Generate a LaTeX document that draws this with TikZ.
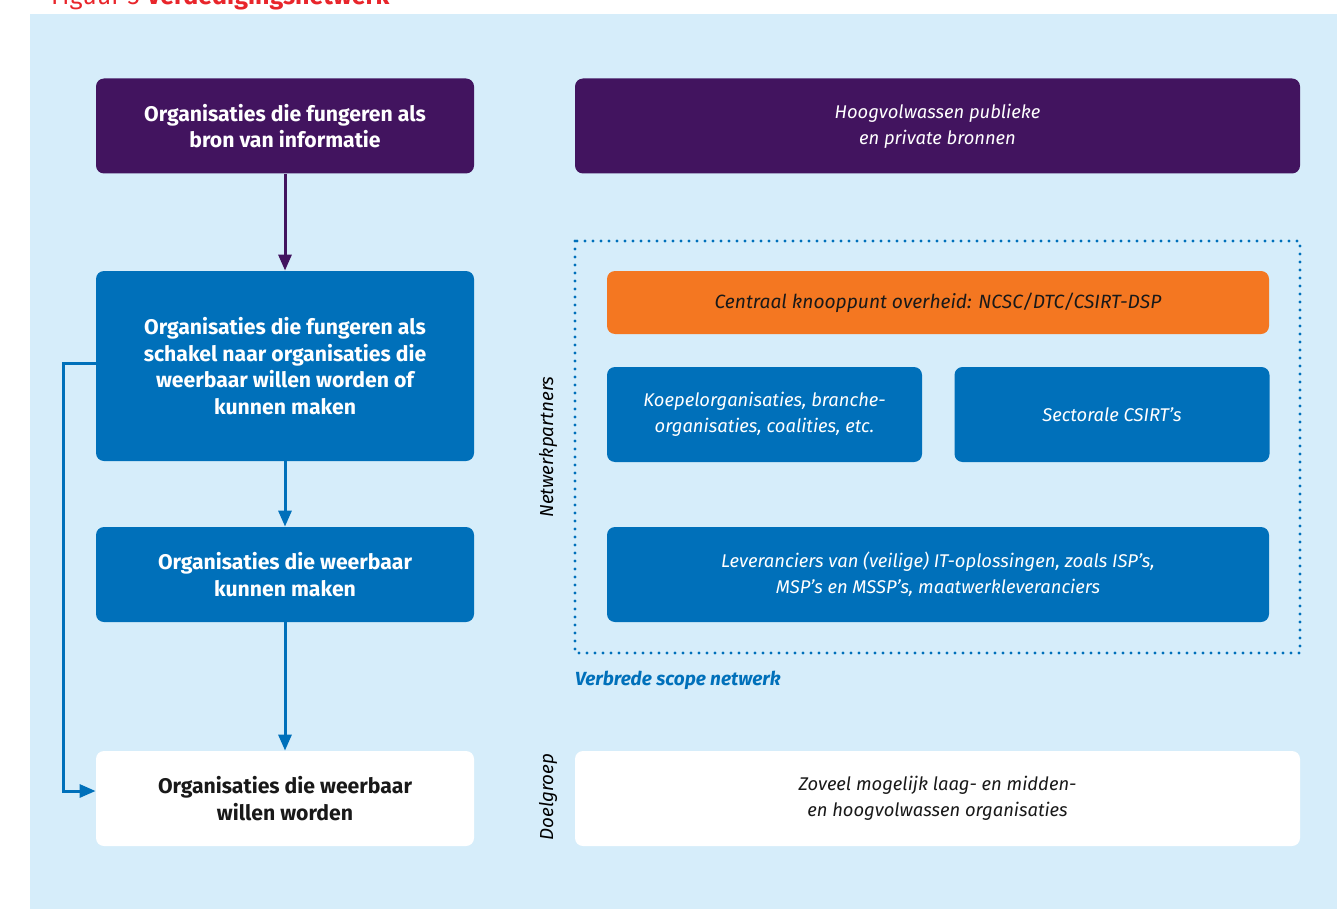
\documentclass[tikz,border=0pt]{standalone}
\usepackage{fontspec}
\setmainfont{Fira Sans}
\usepackage{xcolor}
\usepackage{tikz}
\usetikzlibrary{arrows.meta,calc}
\definecolor{achtergrond}{HTML}{D6EDFA}
\definecolor{paars}{HTML}{42145F}
\definecolor{blauw}{HTML}{0070BA}
\definecolor{oranje}{HTML}{F47721}
\definecolor{titelrood}{HTML}{E8252B}
\tikzset{
    vak/.style={rounded corners=4pt, align=center, inner sep=0pt, font=\fontsize{9}{13}\selectfont},
    linksvak/.style={vak, minimum width=189pt, minimum height=47.5pt, font=\fontsize{10.6}{13.2}\selectfont\bfseries},
    rechtsvak/.style={vak, font=\fontsize{9.2}{13}\selectfont\itshape},
    pijl/.style={line width=1.5pt, -{Triangle[length=8pt,width=6.5pt]}}}

\begin{document}
\begin{tikzpicture}[x=0.5pt,y=-0.5pt]
\useasboundingbox (0,0) rectangle (1337,909);
\fill[achtergrond] (30,14) rectangle (1337,909);
\node[anchor=base west, text=titelrood, font=\fontsize{12.5}{14}\selectfont] (titel) at (44,5) {Figuur 3 \textbf{Verdedigingsnetwerk}};
% linker kolom
\node[linksvak, fill=paars, text=white] (bron) at (285,126) {Organisaties die fungeren als\\bron van informatie};
\node[linksvak, fill=blauw, text=white, minimum height=95pt] (schakel) at (285,366) {Organisaties die fungeren als\\schakel naar organisaties die\\weerbaar willen worden of\\kunnen maken};
\node[linksvak, fill=blauw, text=white] (maken) at (285,574.5) {Organisaties die weerbaar\\kunnen maken};
\node[linksvak, fill=white, text=black!90] (worden) at (285,798.5) {Organisaties die weerbaar\\willen worden};
\draw[pijl, paars] (bron) -- (schakel);
\draw[pijl, blauw] (schakel) -- (maken);
\draw[pijl, blauw] (maken) -- (worden);
\coordinate (hoek) at (63,363);
\draw[pijl, blauw] ([yshift=1.5pt]schakel.west) -- (hoek) |- ([yshift=3.75pt]worden.west);
% rechter kolom
\node[rechtsvak, fill=paars, text=white, minimum width=362.5pt, minimum height=47.5pt] (bronnen) at (937.5,126) {Hoogvolwassen publieke\\en private bronnen};
\draw[blauw, line width=1.6pt, line cap=round, dash pattern=on 0pt off 4pt] (575,241) rectangle (1300,653);
\node[rechtsvak, fill=oranje, text=black!90, minimum width=331pt, minimum height=31.5pt, font=\fontsize{9.6}{13}\selectfont\itshape] (knooppunt) at (938,302.5) {Centraal knooppunt overheid: NCSC/DTC/CSIRT-DSP};
\node[rechtsvak, fill=blauw, text=white, minimum width=157.5pt, minimum height=47.5pt] (koepel) at (764.5,414.5) {Koepelorganisaties, branche-\\organisaties, coalities, etc.};
\node[rechtsvak, fill=blauw, text=white, minimum width=157.5pt, minimum height=47.5pt] (sectoraal) at (1112,414.5) {Sectorale CSIRT’s};
\node[rechtsvak, fill=blauw, text=white, minimum width=331pt, minimum height=47.5pt] (leveranciers) at (938,574.5) {Leveranciers van (veilige) IT-oplossingen, zoals ISP’s,\\MSP’s en MSSP’s, maatwerkleveranciers};
\node[rechtsvak, fill=white, text=black!90, minimum width=362.5pt, minimum height=47.5pt] (doelgroep) at (937.5,798.5) {Zoveel mogelijk laag- en midden-\\en hoogvolwassen organisaties};
% labels
\node[rotate=90, font=\fontsize{9.4}{11}\selectfont\itshape] (netwerk) at (548,447) {Netwerkpartners};
\node[rotate=90, font=\fontsize{9.4}{11}\selectfont\itshape] (doel) at (548,797) {Doelgroep};
\node[anchor=west, text=blauw, font=\fontsize{9.5}{11}\selectfont\bfseries\itshape] (scope) at (568,680) {Verbrede scope netwerk};
\end{tikzpicture}
\end{document}
